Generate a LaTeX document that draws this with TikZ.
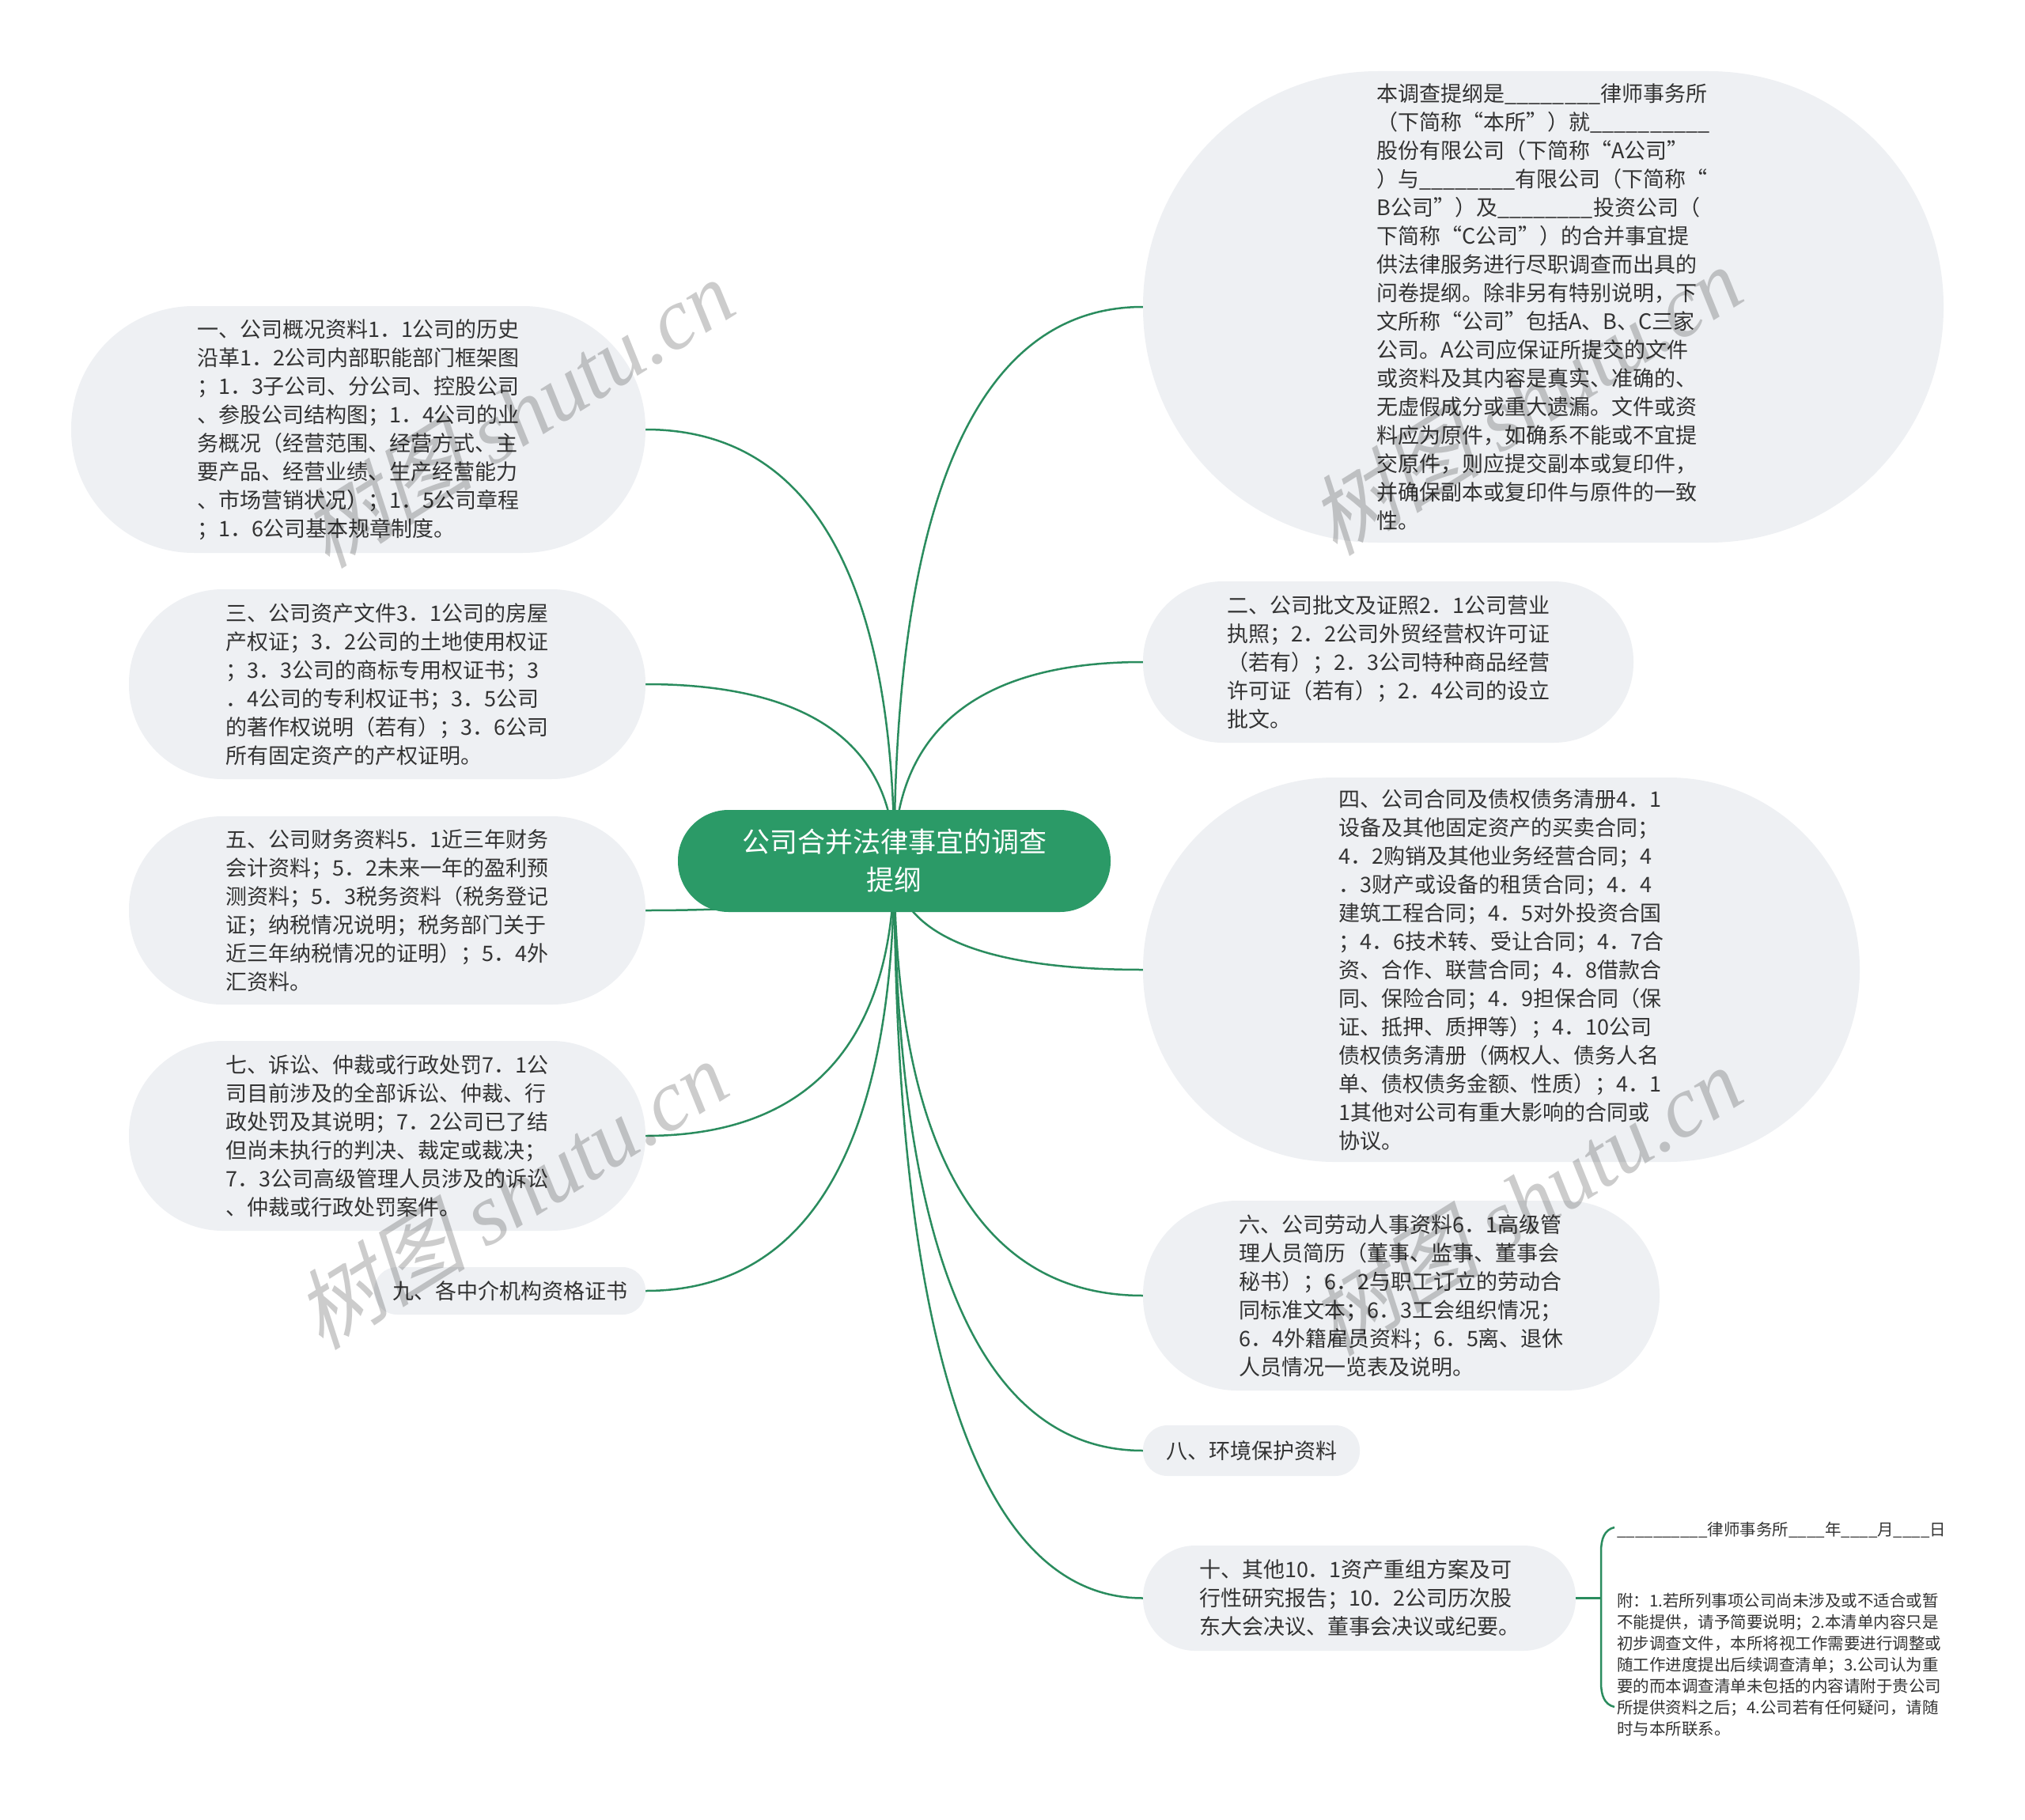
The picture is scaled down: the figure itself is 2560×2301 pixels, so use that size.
\documentclass[tikz,border=0pt]{standalone}
\usepackage{fontspec}
\setmainfont{Noto Sans CJK SC}
\newfontfamily\wmserif{Liberation Serif}
\newfontfamily\wmcjk{Noto Sans CJK SC}[FakeSlant=0.25]
\usetikzlibrary{calc}
\definecolor{nodefill}{HTML}{EEF0F3}
\definecolor{rootfill}{HTML}{2B9A67}
\definecolor{edgecol}{HTML}{2A8C5E}
\definecolor{txt}{HTML}{333333}
\pgfdeclarelayer{bg}
\pgfdeclarelayer{fg}
\pgfsetlayers{bg,main,fg}
\tikzset{
  pill/.style={rectangle, fill=nodefill, draw=none, align=left, text=txt, inner sep=0pt,
    font=\fontsize{27}{36}\selectfont},
  rootbox/.style={rectangle, fill=rootfill, draw=none, align=center, text=white, inner sep=0pt,
    font=\fontsize{35}{48}\selectfont, minimum width=547pt, minimum height=129pt, rounded corners=64pt},
  link/.style={draw=edgecol, line width=2.5pt},
  notebox/.style={align=left, text=txt, inner sep=0pt, font=\fontsize{20.5}{27}\selectfont, anchor=north west},
  wmark/.style={text=black, text opacity=0.2, rotate=32, font=\fontsize{110}{120}\selectfont, inner sep=0pt},
}
\begin{document}
\begin{tikzpicture}[x=1pt,y=-1pt]
\useasboundingbox (0,0) rectangle (2560,2301);

\node[rootbox] (c) at (1130.5,1088.5) {公司合并法律事宜的调查\\提纲};

% right side
\node[pill, minimum width=1012pt, minimum height=596pt, rounded corners=297pt] (n0) at (1951,388) {本调查提纲是\_\_\_\_\_\_\_\_律师事务所\\（下简称“本所”）就\_\_\_\_\_\_\_\_\_\_\\股份有限公司（下简称“A公司”\\）与\_\_\_\_\_\_\_\_有限公司（下简称“\\B公司”）及\_\_\_\_\_\_\_\_投资公司（\\下简称“C公司”）的合并事宜提\\供法律服务进行尽职调查而出具的\\问卷提纲。除非另有特别说明，下\\文所称“公司”包括A、B、C三家\\公司。A公司应保证所提交的文件\\或资料及其内容是真实、准确的、\\无虚假成分或重大遗漏。文件或资\\料应为原件，如确系不能或不宜提\\交原件，则应提交副本或复印件，\\并确保副本或复印件与原件的一致\\性。};

\node[pill, minimum width=620pt, minimum height=204pt, rounded corners=101pt] (n2) at (1755,837) {二、公司批文及证照2．1公司营业\\执照；2．2公司外贸经营权许可证\\（若有）；2．3公司特种商品经营\\许可证（若有）；2．4公司的设立\\批文。};

\node[pill, minimum width=906pt, minimum height=486pt, rounded corners=242pt] (n4) at (1898,1226) {四、公司合同及债权债务清册4．1\\设备及其他固定资产的买卖合同；\\4．2购销及其他业务经营合同；4\\．3财产或设备的租赁合同；4．4\\建筑工程合同；4．5对外投资合国\\；4．6技术转、受让合同；4．7合\\资、合作、联营合同；4．8借款合\\同、保险合同；4．9担保合同（保\\证、抵押、质押等）；4．10公司\\债权债务清册（俩权人、债务人名\\单、债权债务金额、性质）；4．1\\1其他对公司有重大影响的合同或\\协议。};

\node[pill, minimum width=653pt, minimum height=240pt, rounded corners=119pt] (n6) at (1771.5,1638) {六、公司劳动人事资料6．1高级管\\理人员简历（董事、监事、董事会\\秘书）；6．2与职工订立的劳动合\\同标准文本；6．3工会组织情况；\\6．4外籍雇员资料；6．5离、退休\\人员情况一览表及说明。};

\node[pill, minimum width=274pt, minimum height=64pt, rounded corners=31pt] (n8) at (1582,1834) {八、环境保护资料};

\node[pill, minimum width=547pt, minimum height=133pt, rounded corners=66pt] (n10) at (1718.5,2020.5) {十、其他10．1资产重组方案及可\\行性研究报告；10．2公司历次股\\东大会决议、董事会决议或纪要。};

% left side
\node[pill, minimum width=726pt, minimum height=312pt, rounded corners=155pt] (n1) at (453,543) {一、公司概况资料1．1公司的历史\\沿革1．2公司内部职能部门框架图\\；1．3子公司、分公司、控股公司\\、参股公司结构图；1．4公司的业\\务概况（经营范围、经营方式、主\\要产品、经营业绩、生产经营能力\\、市场营销状况）；1．5公司章程\\；1．6公司基本规章制度。};

\node[pill, minimum width=653pt, minimum height=240pt, rounded corners=119pt] (n3) at (489.5,865) {三、公司资产文件3．1公司的房屋\\产权证；3．2公司的土地使用权证\\；3．3公司的商标专用权证书；3\\．4公司的专利权证书；3．5公司\\的著作权说明（若有）；3．6公司\\所有固定资产的产权证明。};

\node[pill, minimum width=653pt, minimum height=238pt, rounded corners=118pt] (n5) at (489.5,1151) {五、公司财务资料5．1近三年财务\\会计资料；5．2未来一年的盈利预\\测资料；5．3税务资料（税务登记\\证；纳税情况说明；税务部门关于\\近三年纳税情况的证明）；5．4外\\汇资料。};

\node[pill, minimum width=653pt, minimum height=240pt, rounded corners=119pt] (n7) at (489.5,1436) {七、诉讼、仲裁或行政处罚7．1公\\司目前涉及的全部诉讼、仲裁、行\\政处罚及其说明；7．2公司已了结\\但尚未执行的判决、裁定或裁决；\\7．3公司高级管理人员涉及的诉讼\\、仲裁或行政处罚案件。};

\node[pill, minimum width=343pt, minimum height=60pt, rounded corners=29pt] (n9) at (644.5,1632) {九、各中介机构资格证书};

% annotation
\node[notebox] (note) at (2044,1924) {\_\_\_\_\_\_\_\_\_\_律师事务所\_\_\_\_年\_\_\_\_月\_\_\_\_日\\[63pt]附：1.若所列事项公司尚未涉及或不适合或暂\\不能提供，请予简要说明；2.本清单内容只是\\初步调查文件，本所将视工作需要进行调整或\\随工作进度提出后续调查清单；3.公司认为重\\要的而本调查清单未包括的内容请附于贵公司\\所提供资料之后；4.公司若有任何疑问，请随\\时与本所联系。};

\coordinate (bt) at (2041,1931);
\coordinate (bb) at (2041,2158);
\coordinate (bm) at (2024,2020.5);

\begin{pgfonlayer}{bg}
\fill[white] (0,0) rectangle (2560,2301);
\foreach \n in {n0,n2,n4,n6,n8,n10} {
  \draw[link] (c.center) .. controls ($(c.center)!0.5!(c.center |- \n.west)$) and ($(c.center |- \n.west)!0.2!(\n.west)$) .. (\n.west);
}
\foreach \n in {n1,n3,n5,n7,n9} {
  \draw[link] (c.center) .. controls ($(c.center)!0.5!(c.center |- \n.east)$) and ($(c.center |- \n.east)!0.2!(\n.east)$) .. (\n.east);
}
\end{pgfonlayer}
\draw[link] (n10.east) -- (bm);
\draw[link] (bt) .. controls (2028,1934) and (2024,1946) .. (2024,1962) -- (2024,2127) .. controls (2024,2143) and (2028,2155) .. (bb);

% watermarks
\begin{pgfonlayer}{fg}
\node[wmark] (wm1) at (653,522) {{\wmcjk 树图} {\wmserif\itshape shutu.cn}};
\node[wmark] (wm2) at (1927,506) {{\wmcjk 树图} {\wmserif\itshape shutu.cn}};
\node[wmark] (wm3) at (645,1510) {{\wmcjk 树图} {\wmserif\itshape shutu.cn}};
\node[wmark] (wm4) at (1927,1518) {{\wmcjk 树图} {\wmserif\itshape shutu.cn}};
\end{pgfonlayer}
\end{tikzpicture}
\end{document}
